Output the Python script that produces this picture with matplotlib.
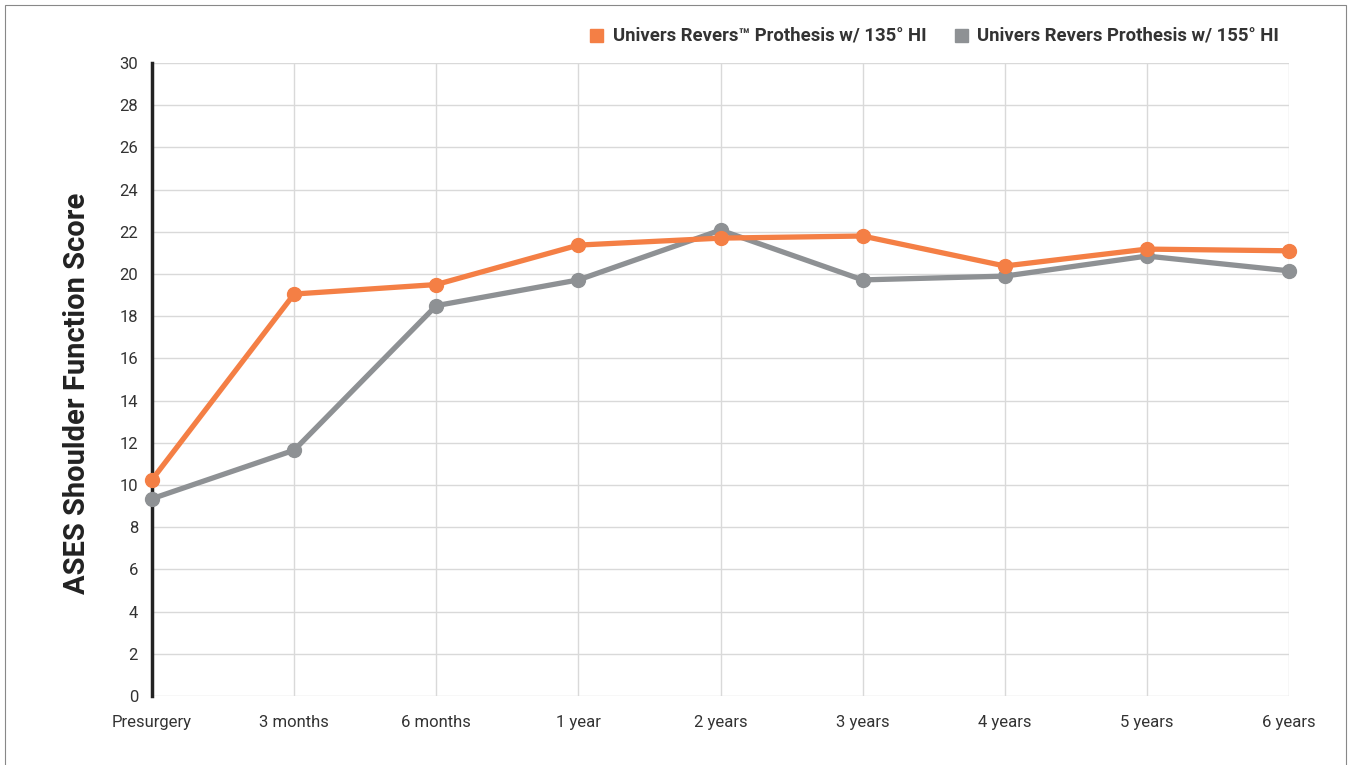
import matplotlib
matplotlib.use("Agg")
import matplotlib.pyplot as plt
from matplotlib.patches import Rectangle

categories = ["Presurgery", "3 months", "6 months", "1 year", "2 years",
              "3 years", "4 years", "5 years", "6 years"]
hi135 = [10.25, 19.05, 19.5, 21.37, 21.7, 21.8, 20.38, 21.18, 21.1]
hi155 = [9.35, 11.65, 18.5, 19.72, 22.08, 19.72, 19.9, 20.85, 20.15]
series_names = ["Univers Revers\u2122 Prothesis w/ 135\u00b0 HI",
                "Univers Revers Prothesis w/ 155\u00b0 HI"]
yticks = list(range(0, 31, 2))

orange = "#F47F45"
gray = "#8E9194"
plt.rcParams['font.family'] = ['Roboto', 'DejaVu Sans']

fig = plt.figure(figsize=(13.51, 7.65), dpi=100)
ax = fig.add_axes([152/1351, 1-696/765, (1289-152)/1351, (696-63)/765])
x = list(range(len(categories)))
ax.plot(x, hi155, color=gray, lw=3.8, marker='o', ms=10, zorder=3, clip_on=False)
ax.plot(x, hi135, color=orange, lw=3.8, marker='o', ms=10, zorder=4, clip_on=False)

ax.set_xlim(0, len(categories)-1)
ax.set_ylim(0, 30)
ax.set_yticks(yticks)
ax.set_xticks(x)
ax.set_xticklabels(categories, fontsize=12, color="#333333")
ax.set_yticklabels([str(t) for t in yticks], fontsize=12, color="#333333")
ax.tick_params(axis='both', length=0)
ax.tick_params(axis='y', pad=10)
ax.tick_params(axis='x', pad=14)
ax.grid(True, color="#D9D9D9", lw=1)
ax.set_axisbelow(True)
for s in ["top", "right", "bottom"]:
    ax.spines[s].set_visible(False)
ax.spines["left"].set_color("#222222")
ax.spines["left"].set_linewidth(2.5)
ax.spines["left"].set_zorder(2)

ax.set_ylabel("ASES Shoulder Function Score", fontsize=21, fontweight='bold',
              color="#222222", va='center')
ax.yaxis.set_label_coords((77-152)/1137, (696-393)/633)

# legend
fig.patches.append(Rectangle((590/1351, 1-42/765), 13/1351, 13/765,
                             transform=fig.transFigure, color=orange))
fig.text(613/1351, 1-35.5/765, series_names[0], fontsize=13.3, fontweight='bold',
         color="#333333", va='center', ha='left')
fig.patches.append(Rectangle((955/1351, 1-42/765), 13/1351, 13/765,
                             transform=fig.transFigure, color=gray))
fig.text(977/1351, 1-35.5/765, series_names[1], fontsize=13.3, fontweight='bold',
         color="#333333", va='center', ha='left')

# border
fig.patches.append(Rectangle((5/1351, -0.01), 1-10/1351, 1-5/765+0.01,
                             transform=fig.transFigure, fill=False,
                             edgecolor="#888888", lw=0.8))

fig.savefig("out.png", dpi=100)
